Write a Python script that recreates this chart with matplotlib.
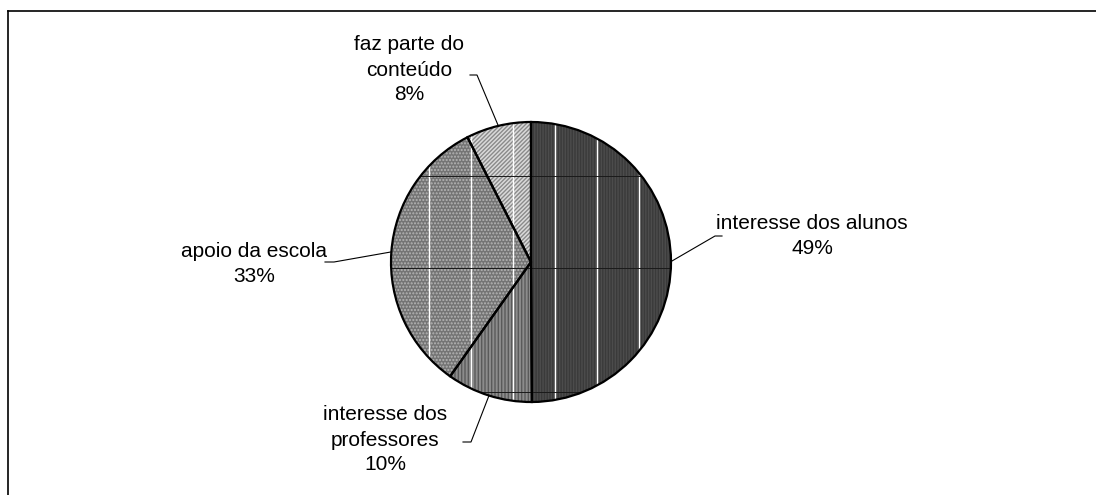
import matplotlib
matplotlib.use("Agg")
import matplotlib.pyplot as plt
from matplotlib.patches import Circle, Wedge
import numpy as np

labels = ["interesse dos alunos", "interesse dos\nprofessores", "apoio da escola", "faz parte do\nconteúdo"]
pct_labels = [49, 10, 33, 8]
# slice sizes as drawn in the picture (labels are rounded)
shares = [49.9, 9.9, 32.7, 7.5]

face_colors = ["#3a3a3a", "#8c8c8c", "#747474", "#dadada"]
hatch_colors = ["#4c4c4c", "#5a5a5a", "#b4b4b4", "#8a8a8a"]
hatches = ["||||||", "|||||", ".....", "////////"]

W, H = 1096, 495
def Y(py):
    return H - py

cx, cy, r = 531, Y(262), 140

# label centers and leader-line elbow points (pixel coords)
text_pos = [(812, 236), (385, 440), (254, 264), (409, 70)]
elbows = [((715, 236), (722, 236)), ((471, 442), (463, 442)),
          ((334, 262), (325, 262)), ((477, 75), (470, 75))]

plt.rcParams['font.family'] = ['Liberation Sans', 'DejaVu Sans']
plt.rcParams['hatch.linewidth'] = 1.0

fig = plt.figure(figsize=(W / 100, H / 100), dpi=100)
ax = fig.add_axes([0, 0, 1, 1])

wedges, _ = ax.pie(shares, startangle=90, counterclock=False, center=(cx, cy),
                   radius=r, colors=face_colors,
                   wedgeprops=dict(linewidth=0))
for w, hc, h in zip(wedges, hatch_colors, hatches):
    w.set_hatch(h)
    w.set_edgecolor(hc)
    w.set_linewidth(0)

# grid artefacts over the pie
clip = Circle((cx, cy), r, transform=ax.transData)
for gx in [429, 471, 513, 555, 597, 639]:
    ln, = ax.plot([gx, gx], [cy - r, cy + r], color="white", lw=1.0, zorder=3)
    ln.set_clip_path(clip)
for gy in [176, 268, 392]:
    ln, = ax.plot([cx - r, cx + r], [Y(gy), Y(gy)], color="#1a1a1a", lw=0.7, zorder=3)
    ln.set_clip_path(clip)

# outlines
for w in wedges:
    ax.add_patch(Wedge((cx, cy), r, w.theta1, w.theta2,
                       fill=False, edgecolor="black", lw=1.6, zorder=4))

# labels with leader lines
for w, lab, p, tp, (e1, e2) in zip(wedges, labels, pct_labels, text_pos, elbows):
    mid = np.deg2rad((w.theta1 + w.theta2) / 2)
    sx, sy = cx + r * np.cos(mid), cy + r * np.sin(mid)
    ax.plot([sx, e1[0], e2[0]], [sy, Y(e1[1]), Y(e2[1])], color="black", lw=0.8, zorder=5)
    ax.text(tp[0], Y(tp[1]), f"{lab}\n{p}%", ha="center", va="center",
            fontsize=15, linespacing=1.4, color="black")

# chart border (top and left edges visible)
ax.plot([8, W], [Y(11), Y(11)], color="black", lw=1.2, clip_on=False)
ax.plot([8, 8], [Y(11), 0], color="black", lw=1.2, clip_on=False)

ax.set_xlim(0, W)
ax.set_ylim(0, H)
ax.set_aspect("auto")
ax.axis("off")

fig.savefig("out.png", dpi=100)
